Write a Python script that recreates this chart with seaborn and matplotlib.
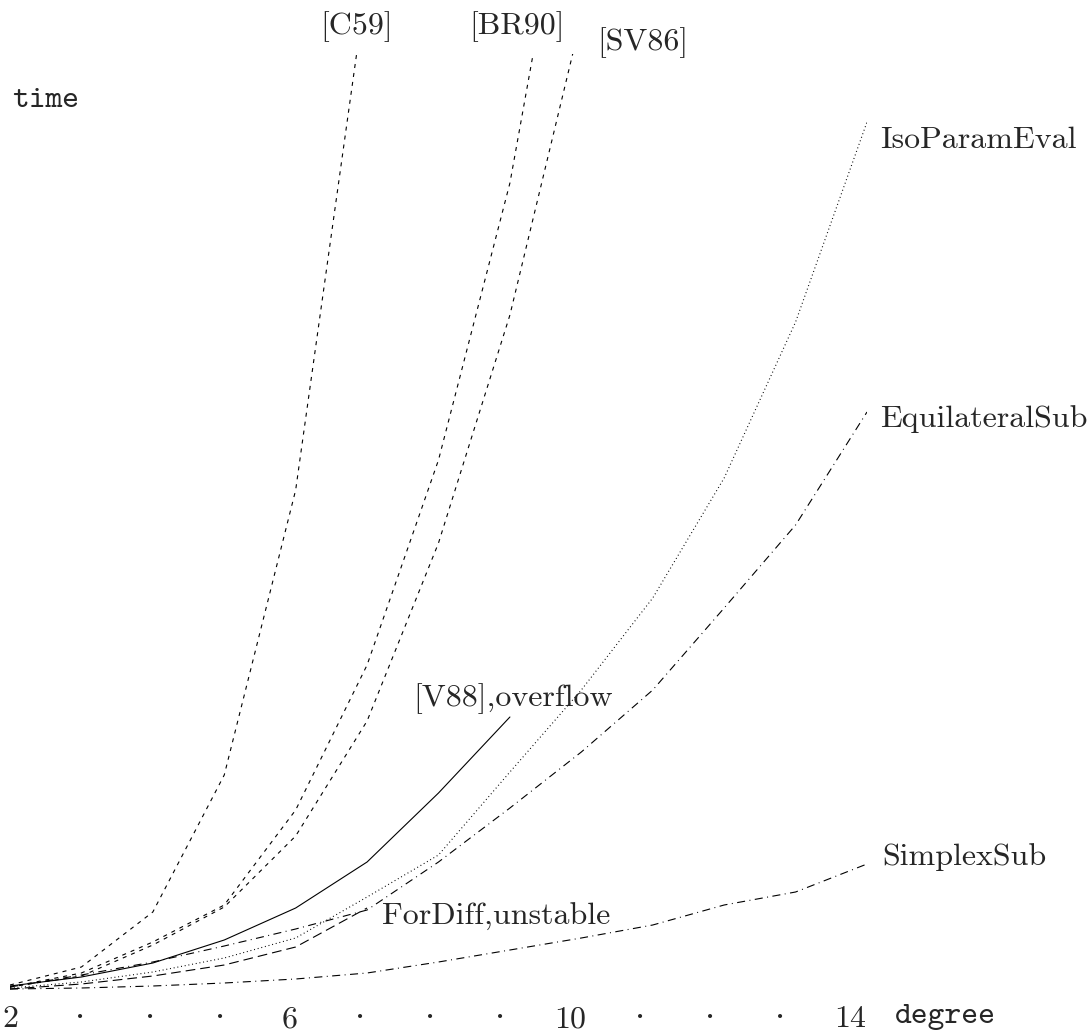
import pandas as pd
import numpy as np
import seaborn as sns
from matplotlib import pyplot as plt

# running time per degree (arbitrary units)
degree_c59 = [2, 3, 4, 5, 6, 7]
time_c59 = [0.7, 2.5, 8.0, 21.7, 50.2, 101.3]

degree_br90 = [2, 3, 4, 5, 6, 7, 8, 9, 10]
time_br90 = [0.5, 1.9, 5.0, 8.7, 18.2, 32.7, 53.2, 80.9, 120.6]

degree_sv86 = [2, 3, 4, 5, 6, 7, 8, 9, 10]
time_sv86 = [0.5, 1.6, 4.7, 8.5, 15.6, 27.1, 44.9, 67.7, 97.4]

degree_v88 = [2, 3, 4, 5, 6, 7, 8, 9]
time_v88 = [0.6, 1.5, 2.9, 5.2, 8.4, 13.0, 19.9, 27.5]

degree_fordiff = [2, 3, 4, 5, 6, 7]
time_fordiff = [0.3, 0.8, 1.6, 2.7, 4.5, 8.4]

degree_full = [2, 3, 4, 5, 6, 7, 8, 9, 10, 11, 12, 13, 14]
time_isoparam = [0.4, 1.0, 2.0, 3.4, 5.4, 9.5, 13.7, 22.0, 30.2, 39.4, 51.4, 67.0, 87.0]
time_equilateral = [0.5, 1.7, 3.0, 4.6, 6.3, 8.2, 13.0, 18.4, 24.0, 30.2, 38.4, 46.7, 58.0]
time_simplex = [0.3, 0.4, 0.6, 0.9, 1.3, 1.9, 3.0, 4.2, 5.4, 6.7, 8.7, 10.0, 12.8]

tick_degrees = list(range(2, 15))
tick_labels = ["2", "·", "·", "·", "6", "·", "·", "·", "10", "·", "·", "·", "14"]

series = [
    ("[C59]", degree_c59, time_c59),
    ("[BR90]", degree_br90, time_br90),
    ("[SV86]", degree_sv86, time_sv86),
    ("[V88],overflow", degree_v88, time_v88),
    ("ForDiff,unstable", degree_fordiff, time_fordiff),
    ("IsoParamEval", degree_full, time_isoparam),
    ("EquilateralSub", degree_full, time_equilateral),
    ("SimplexSub", degree_full, time_simplex),
]
df = pd.concat(
    [pd.DataFrame({"method": name, "degree": d, "time": t}) for name, d, t in series],
    ignore_index=True,
)

sns.set_style("white")
plt.rcParams["lines.scale_dashes"] = False
roman = ["cmr10", "DejaVu Serif"]
mono = ["cmtt10", "DejaVu Sans Mono"]

dashes = {
    "[C59]": (2.9, 3.6),
    "[BR90]": (2.9, 3.6),
    "[SV86]": (2.9, 3.6),
    "[V88],overflow": "",
    "ForDiff,unstable": (7.0, 3.6),
    "IsoParamEval": (0.7, 2.0),
    "EquilateralSub": (5.8, 3.2, 0.7, 3.2),
    "SimplexSub": (5.8, 3.2, 0.7, 3.2),
}
palette = {name: "black" for name in dashes}

W, H = 1091, 1034
fig = plt.figure(figsize=(W / 100, H / 100), dpi=100)
ax = fig.add_axes([10 / W, (H - 992) / H, (867 - 10) / W, (992 - 54) / H])

sns.lineplot(data=df, x="degree", y="time", hue="method", style="method",
             palette=palette, dashes=dashes, estimator=None, linewidth=0.8,
             legend=False, ax=ax)

ax.set_xlim(2, 14)
ax.set_ylim(0, 93.8)
for s in ax.spines.values():
    s.set_visible(False)
ax.set_xlabel("")
ax.set_ylabel("")
ax.set_yticks([])

# the printed tick labels are spaced slightly tighter than the curves
tick_pos = [2 + (d - 2) * 70 / 71.4 for d in tick_degrees]
ax.set_xticks(tick_pos, tick_labels)
ax.tick_params(axis="x", length=0, pad=25.2)
for lbl in ax.get_xticklabels():
    lbl.set_fontfamily(roman)
    lbl.set_fontsize(23)
    lbl.set_verticalalignment("baseline")


def label(text, x, y, ha="left", family=roman):
    fig.text(x / W, 1 - y / H, text, ha=ha, va="baseline", fontsize=23, family=family)


label("time", 12, 107, family=mono)
label("degree", 895, 1023, family=mono)
label("[C59]", 357, 34, ha="center")
label("[BR90]", 517, 34, ha="center")
label("[SV86]", 643, 50, ha="center")
label("IsoParamEval", 880, 148)
label("EquilateralSub", 880, 427)
label("[V88],overflow", 413, 706)
label("SimplexSub", 882, 865)
label("ForDiff,unstable", 382, 925)

fig.savefig("out.png", dpi=100, facecolor="white")
